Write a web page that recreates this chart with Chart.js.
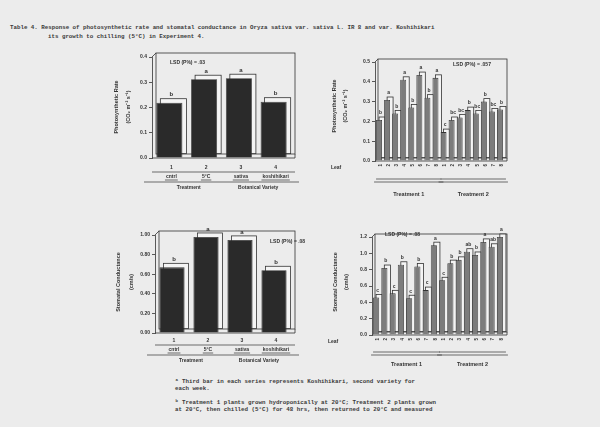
<!DOCTYPE html>
<html>
<head>
<meta charset="utf-8">
<script src="https://cdn.jsdelivr.net/npm/chart.js@4/dist/chart.umd.min.js"></script>
<style>
  html, body { margin: 0; padding: 0; width: 600px; height: 427px; background: #ececec; overflow: hidden; }
  canvas { position: absolute; }
  .note { position: absolute; font-family: "Liberation Mono", "DejaVu Sans Mono", monospace; font-size: 5.8px;
          font-weight: bold; color: #3a3a3a; white-space: pre; line-height: 7px; }
</style>
</head>
<body>
<div class="note" style="left:10px;top:24px;">Table 4. Response of photosynthetic rate and stomatal conductance in Oryza sativa var. sativa L. IR 8 and var. Koshihikari</div>
<div class="note" style="left:48px;top:33px;">its growth to chilling (5°C) in Experiment 4.</div>

<canvas id="photoVariety" width="210" height="155" style="left:100px;top:45px;"></canvas>
<canvas id="photoLeaf" width="200" height="160" style="left:320px;top:45px;"></canvas>
<canvas id="condVariety" width="220" height="150" style="left:100px;top:220px;"></canvas>
<canvas id="condLeaf" width="200" height="155" style="left:320px;top:220px;"></canvas>

<div class="note" style="left:175px;top:378px;">ᵃ Third bar in each series represents Koshihikari, second variety for
each week.</div>
<div class="note" style="left:175px;top:399px;">ᵇ Treatment 1 plants grown hydroponically at 20°C; Treatment 2 plants grown
at 20°C, then chilled (5°C) for 48 hrs, then returned to 20°C and measured</div>

<script>
// ---- data ----
const varietyCats = ['1', '2', '3', '4'];
const varietyNames = ['cntrl', '5°C', 'sativa', 'koshihikari'];
const varietyGroups = ['Treatment', 'Botanical Variety'];

const photoByVariety = [0.219, 0.312, 0.316, 0.223];
const photoVarietyLetters = ['b', 'a', 'a', 'b'];

const condByVariety = [0.67, 0.98, 0.95, 0.64];
const condVarietyLetters = ['b', 'a', 'a', 'b'];

const leafCats = ['1', '2', '3', '4', '5', '6', '7', '8', '1', '2', '3', '4', '5', '6', '7', '8'];
const leafGroups = ['Treatment 1', 'Treatment 2'];

const photoByLeaf = [0.207, 0.308, 0.24, 0.41, 0.27, 0.434, 0.32, 0.42,
                     0.146, 0.207, 0.22, 0.257, 0.24, 0.30, 0.25, 0.26];
const photoLeafLetters = ['b', 'a', 'b', 'a', 'b', 'a', 'b', 'a',
                          'c', 'bc', 'bc', 'b', 'bc', 'b', 'bc', 'b'];

const condByLeaf = [0.46, 0.82, 0.51, 0.86, 0.45, 0.84, 0.55, 1.10,
                    0.67, 0.88, 0.92, 1.02, 0.98, 1.14, 1.08, 1.20];
const condLeafLetters = ['c', 'b', 'c', 'b', 'c', 'b', 'c', 'a',
                         'c', 'b', 'b', 'ab', 'b', 'a', 'ab', 'a'];

// ---- drawing ----
const ink = '#333333';
const faceFill = '#f4f4f4';
const sans = '"Liberation Sans", Arial, sans-serif';

function font(size, bold) { return (bold ? 'bold ' : '') + size + 'px ' + sans; }

// boxed "3-D" frame, raised faces behind the bars, letters and axis annotations
const paper = {
  id: 'paper',
  beforeDatasetsDraw(chart, args, o) {
    const { ctx, chartArea: a } = chart;
    const d = o.depth;
    ctx.save();
    ctx.strokeStyle = ink;
    ctx.lineWidth = 0.8;
    // back wall
    ctx.strokeRect(a.left + d, a.top - d, a.right - a.left, a.bottom - a.top);
    ctx.beginPath();
    ctx.moveTo(a.left, a.top); ctx.lineTo(a.left + d, a.top - d);
    ctx.moveTo(a.left, a.bottom); ctx.lineTo(a.right + d, a.bottom);
    ctx.lineTo(a.right + d, a.bottom - d);
    ctx.stroke();
    // raised faces behind each bar
    chart.getDatasetMeta(0).data.forEach(bar => {
      const p = bar.getProps(['x', 'y', 'base', 'width'], true);
      const l = p.x - p.width / 2 + d, t = p.y - d;
      ctx.fillStyle = faceFill;
      ctx.fillRect(l, t, p.width, p.base - p.y);
      ctx.strokeRect(l, t, p.width, p.base - p.y);
    });
    ctx.restore();
  },
  afterDatasetsDraw(chart, args, o) {
    const { ctx, chartArea: a } = chart;
    const d = o.depth;
    const bars = chart.getDatasetMeta(0).data.map(b => b.getProps(['x', 'y', 'width'], true));
    ctx.save();
    ctx.fillStyle = ink;
    ctx.strokeStyle = ink;
    ctx.lineWidth = 0.7;
    ctx.textBaseline = 'middle';

    // significance letters
    ctx.font = font(o.letterSize, true);
    ctx.textAlign = 'center';
    bars.forEach((b, i) => ctx.fillText(o.letters[i], b.x + d / 2, b.y - d - 4));

    // LSD note
    ctx.font = font(5, true);
    ctx.textAlign = 'left';
    ctx.fillText(o.lsd.text, o.lsd.x, o.lsd.y);

    // y-axis title
    ctx.font = font(5.5, true);
    ctx.textAlign = 'center';
    o.yTitle.lines.forEach((line, i) => {
      ctx.save();
      ctx.translate(o.yTitle.x[i], o.yTitle.cy);
      ctx.rotate(-Math.PI / 2);
      ctx.fillText(line, 0, 0);
      ctx.restore();
    });

    const hline = (x1, x2, y) => { ctx.beginPath(); ctx.moveTo(x1, y); ctx.lineTo(x2, y); ctx.stroke(); };

    if (o.kind === 'variety') {
      const r = o.rows;
      ctx.font = font(5, true);
      bars.forEach((b, i) => ctx.fillText(chart.data.labels[i], b.x + d / 2, a.bottom + r.num));
      hline(a.left, a.right + d, a.bottom + r.line1);
      o.names.forEach((n, i) => {
        const x = bars[i].x + d / 2;
        ctx.fillText(n, x, a.bottom + r.name);
        const w = ctx.measureText(n).width;
        hline(x - w / 2 - 1, x + w / 2 + 1, a.bottom + r.name + 3);
      });
      hline(a.left - 8, a.right + d + 4, a.bottom + r.line2);
      o.groups.forEach((g, gi) => {
        const x = (bars[gi * 2].x + bars[gi * 2 + 1].x) / 2 + d / 2;
        ctx.fillText(g, x, a.bottom + r.group);
      });
    } else {
      const r = o.rows;
      ctx.font = font(5, true);
      ctx.textAlign = 'left';
      ctx.fillText('Leaf', a.left - 44, a.bottom + 7);
      ctx.font = font(4.5, true);
      ctx.textAlign = 'right';
      bars.forEach((b, i) => {
        ctx.save();
        ctx.translate(b.x + d / 2, a.bottom + 3);
        ctx.rotate(-Math.PI / 2);
        ctx.fillText(chart.data.labels[i], 0, 0);
        ctx.restore();
      });
      const half = bars.length / 2;
      ctx.font = font(5.5, true);
      ctx.textAlign = 'center';
      o.groups.forEach((g, gi) => {
        const first = bars[gi * half], last = bars[gi * half + half - 1];
        hline(first.x - first.width / 2 - 2, last.x + last.width / 2 + d + 2, a.bottom + r.line);
        hline(first.x - first.width / 2, last.x + last.width / 2 + d, a.bottom + r.line - 3);
        ctx.fillText(g, (first.x + last.x) / 2 + d / 2, a.bottom + r.group);
      });
    }
    ctx.restore();
  }
};

function makeChart(id, labels, values, color, barPct, yMax, yStep, decimals, axisWidth, padding, paperOpts) {
  return new Chart(document.getElementById(id), {
    type: 'bar',
    data: {
      labels: labels,
      datasets: [{
        data: values,
        backgroundColor: color,
        borderColor: ink,
        borderWidth: 0.8,
        borderSkipped: 'bottom',
        barPercentage: barPct,
        categoryPercentage: 1
      }]
    },
    options: {
      responsive: false,
      animation: false,
      events: [],
      layout: { padding: padding },
      plugins: { legend: { display: false }, tooltip: { enabled: false }, paper: paperOpts },
      scales: {
        x: { display: false },
        y: {
          min: 0, max: yMax,
          afterFit(scale) { scale.width = axisWidth; },
          ticks: { stepSize: yStep, color: ink, padding: 2, font: { size: 5, family: sans, weight: 'bold' },
                   callback: v => v.toFixed(decimals) },
          grid: { drawOnChartArea: false, tickLength: 3, color: ink, lineWidth: 0.8 },
          border: { color: ink, width: 0.8 }
        }
      }
    },
    plugins: [paper]
  });
}

const varietyRows = { num: 10, line1: 14, name: 19, line2: 24, group: 30 };

makeChart('photoVariety', varietyCats, photoByVariety, '#2a2a2a', 0.75, 0.4, 0.1, 1, 52,
  { top: 12, right: 19, bottom: 42, left: 0 },
  { kind: 'variety', depth: 4, letterSize: 6, letters: photoVarietyLetters,
    lsd: { text: 'LSD (P%) = .03', x: 70, y: 18 },
    yTitle: { lines: ['Photosynthetic Rate', '(CO\u2082 m\u207B\u00B2 s\u207B\u00B9)'], x: [16, 28], cy: 62 },
    names: varietyNames, groups: varietyGroups, rows: varietyRows });

makeChart('photoLeaf', leafCats, photoByLeaf, '#7c7c7c', 0.74, 0.5, 0.1, 1, 55,
  { top: 17, right: 16, bottom: 44, left: 0 },
  { kind: 'leaf', depth: 3, letterSize: 5, letters: photoLeafLetters,
    lsd: { text: 'LSD (P%) = .057', x: 133, y: 20 },
    yTitle: { lines: ['Photosynthetic Rate', '(CO\u2082 m\u207B\u00B2 s\u207B\u00B9)'], x: [14, 25], cy: 61 },
    groups: leafGroups, rows: { line: 21, group: 33 } });

makeChart('condVariety', varietyCats, condByVariety, '#2a2a2a', 0.74, 1.0, 0.2, 2, 55,
  { top: 15, right: 29, bottom: 37, left: 0 },
  { kind: 'variety', depth: 4, letterSize: 6, letters: condVarietyLetters,
    lsd: { text: 'LSD (P%) = .08', x: 170, y: 22 },
    yTitle: { lines: ['Stomatal Conductance', '(cm/s)'], x: [18, 31], cy: 62 },
    names: varietyNames, groups: varietyGroups,
    rows: { num: 8, line1: 12, name: 17, line2: 22, group: 28 } });

makeChart('condLeaf', leafCats, condByLeaf, '#7c7c7c', 0.74, 1.2, 0.2, 1, 52,
  { top: 17, right: 16, bottom: 40, left: 0 },
  { kind: 'leaf', depth: 3, letterSize: 5, letters: condLeafLetters,
    lsd: { text: 'LSD (P%) = .08', x: 65, y: 15 },
    yTitle: { lines: ['Stomatal Conductance', '(cm/s)'], x: [15, 26], cy: 62 },
    groups: leafGroups, rows: { line: 20, group: 29 } });
</script>
</body>
</html>
